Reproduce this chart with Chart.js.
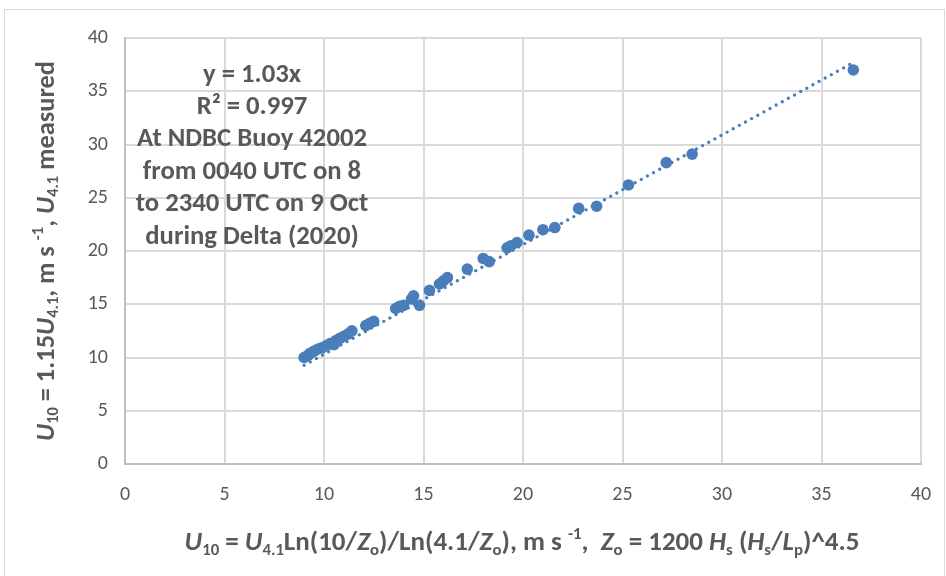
<!DOCTYPE html>
<html><head><meta charset="utf-8">
<script src="https://cdn.jsdelivr.net/npm/chart.js@4.4.1/dist/chart.umd.min.js"></script>
<style>html,body{margin:0;padding:0;background:#fff}#wrap{width:946px;height:576px;position:relative}</style>
</head><body><div id="wrap"><canvas id="c" width="946" height="576"></canvas></div>
<script>
// ---- data ----
const xModel = [9.0, 9.2, 9.3, 9.5, 9.7, 9.9, 10.1, 10.3, 10.5, 10.6, 10.8, 11.0, 11.2, 11.4, 12.1, 12.3, 12.5,
  13.6, 13.8, 14.0, 14.4, 14.5, 14.8, 15.3, 15.8, 16.0, 16.2, 17.2, 18.0, 18.3, 19.2, 19.4, 19.7,
  20.3, 21.0, 21.6, 22.8, 23.7, 25.3, 27.2, 28.5, 36.6];
const yMeasured = [10.0, 10.2, 10.4, 10.6, 10.8, 10.9, 11.1, 11.3, 11.2, 11.6, 11.8, 12.0, 12.2, 12.5, 13.0, 13.2, 13.4,
  14.6, 14.8, 14.9, 15.5, 15.8, 14.9, 16.3, 16.9, 17.2, 17.5, 18.3, 19.3, 19.0, 20.3, 20.5, 20.8,
  21.5, 22.0, 22.2, 24.0, 24.2, 26.2, 28.3, 29.1, 37.0];
const trendSlope = 1.03;
const axisMin = 0, axisMax = 40, axisStep = 5;
const annotationLines = ['y = 1.03x', 'R\u00B2 = 0.997', 'At NDBC Buoy 42002', 'from 0040 UTC on 8', 'to 2340 UTC on 9 Oct', 'during Delta (2020)'];
const xTitle = [
  {t:'U',i:1},{t:'10',sub:1},{t:' = '},{t:'U',i:1},{t:'4.1',sub:1},{t:'Ln(10/'},{t:'Z',i:1},{t:'o',sub:1},
  {t:')/Ln(4.1/'},{t:'Z',i:1},{t:'o',sub:1},{t:'), m s '},{t:'-1',sup:1},{t:',  '},{t:'Z',i:1},{t:'o',sub:1},
  {t:' = 1200 '},{t:'H',i:1},{t:'s',sub:1},{t:' ('},{t:'H',i:1},{t:'s',sub:1},{t:'/'},{t:'L',i:1},{t:'p',sub:1},{t:')^4.5'}
];
const yTitle = [
  {t:'U',i:1},{t:'10',sub:1},{t:' = 1.15'},{t:'U',i:1},{t:'4.1',sub:1},{t:', m s '},{t:'-1',sup:1},{t:', '},
  {t:'U',i:1},{t:'4.1',sub:1},{t:' measured'}
];

const FAM = "Carlito, 'Liberation Sans Narrow', 'Liberation Sans', sans-serif";
const TXT = '#595959';
const BLUE = '#4A7EBB';

function segFont(s, size){
  const sz = (s.sub||s.sup) ? size*0.62 : size;
  return (s.i?'italic ':'') + 'bold ' + sz.toFixed(2) + 'px ' + FAM;
}
function richWidth(ctx, segs, size){
  let w=0; for(const s of segs){ctx.font=segFont(s,size); w+=ctx.measureText(s.t).width;} return w;
}
function drawRich(ctx, segs, cx, cy, targetW){
  let size = 20;
  size = size*targetW/richWidth(ctx, segs, size);
  const w = richWidth(ctx, segs, size);
  let x = cx - w/2;
  ctx.textBaseline='middle'; ctx.textAlign='left'; ctx.fillStyle=TXT;
  for(const s of segs){
    ctx.font=segFont(s,size);
    let dy = s.sub ? size*0.28 : (s.sup ? -size*0.32 : 0);
    ctx.fillText(s.t, x, cy+dy);
    x += ctx.measureText(s.t).width;
  }
}

const decor = {
  id:'decor',
  afterDraw(chart){
    const ctx = chart.ctx;
    ctx.save();
    ctx.strokeStyle='#d9d9d9'; ctx.lineWidth=1;
    ctx.strokeRect(4.5, 9.5, 940, 570);
    ctx.font = 'bold 20px ' + FAM;
    const base = ctx.measureText(annotationLines[2]).width;
    const asz = 20*230/base;
    ctx.font = 'bold ' + asz.toFixed(2) + 'px ' + FAM;
    ctx.fillStyle=TXT; ctx.textAlign='center'; ctx.textBaseline='middle';
    annotationLines.forEach((l,k)=>ctx.fillText(l, 252, 75 + k*32.4));
    drawRich(ctx, xTitle, 522, 543, 675);
    ctx.translate(47, 251); ctx.rotate(-Math.PI/2);
    drawRich(ctx, yTitle, 0, 0, 380);
    ctx.restore();
  }
};

const xMin = Math.min(...xModel), xMax = Math.max(...xModel);
const trend = [{x:xMin, y:trendSlope*xMin}, {x:xMax, y:trendSlope*xMax}];
const pts = xModel.map((x,k)=>({x, y:yMeasured[k]}));

new Chart(document.getElementById('c'), {
  type:'scatter',
  data:{datasets:[
    {type:'line', data:trend, borderColor:BLUE, borderWidth:3.4, borderDash:[0,7], borderCapStyle:'round',
     pointRadius:0, fill:false, order:0},
    {data:pts, backgroundColor:BLUE, borderWidth:0, pointRadius:5.8, pointHoverRadius:5.8, order:1}
  ]},
  plugins:[decor],
  options:{
    responsive:false, animation:false, devicePixelRatio:1,
    layout:{padding:{top:38, right:25, left:0, bottom:0}},
    plugins:{legend:{display:false}, tooltip:{enabled:false}},
    scales:{
      x:{type:'linear', min:axisMin, max:axisMax,
         ticks:{stepSize:axisStep, color:TXT, padding:19, font:{family:FAM, size:20}},
         grid:{color:'#d9d9d9', lineWidth:2, drawTicks:false},
         border:{color:'#bfbfbf', width:2},
         afterFit(s){ s.height = 112; s.paddingLeft = 0; s.paddingRight = 0; }},
      y:{type:'linear', min:axisMin, max:axisMax,
         ticks:{stepSize:axisStep, color:TXT, padding:17, font:{family:FAM, size:20}},
         grid:{color:'#d9d9d9', lineWidth:2, drawTicks:false},
         border:{color:'#bfbfbf', width:2},
         afterFit(s){ s.width = 125; s.paddingTop = 0; s.paddingBottom = 0; }}
    }
  }
});
</script></body></html>
